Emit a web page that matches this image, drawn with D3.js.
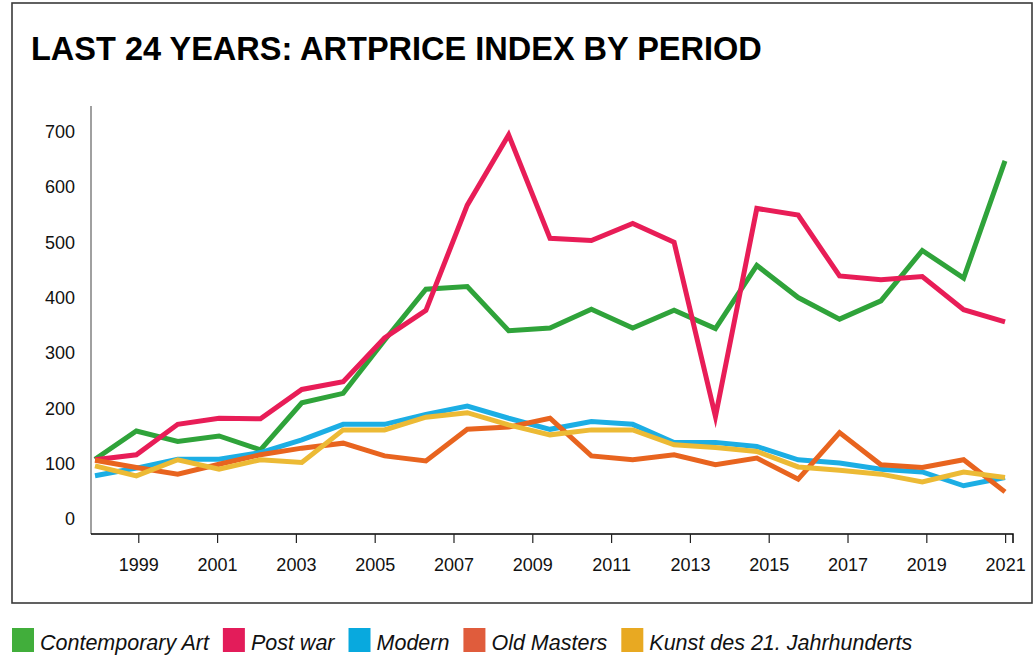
<!DOCTYPE html>
<html>
<head>
<meta charset="utf-8">
<script src="https://cdn.jsdelivr.net/npm/d3@7"></script>
<style>
  body { margin: 0; background: #fff; }
  svg { display: block; font-family: "Liberation Sans", Arial, sans-serif; }
</style>
</head>
<body>
<svg width="1034" height="655"></svg>
<script>

// years of the index (base 100 in 1998)
var years = [1998, 1999, 2000, 2001, 2002, 2003, 2004, 2005, 2006, 2007, 2008, 2009,
             2010, 2011, 2012, 2013, 2014, 2015, 2016, 2017, 2018, 2019, 2020];

var contemporary = [108, 159, 140, 150, 125, 210, 227, 323, 415, 420, 340, 345,
                    379, 345, 377, 344, 458, 400, 361, 394, 485, 435, 647];
var postWar      = [107, 116, 171, 182, 181, 234, 248, 327, 377, 567, 694, 507,
                    503, 534, 500, 185, 561, 549, 439, 432, 438, 378, 356];
var modern       = [78, 92, 108, 108, 120, 143, 171, 171, 189, 204, 182, 162,
                    176, 171, 138, 138, 131, 107, 101, 90, 85, 60, 75];
var oldMasters   = [106, 93, 81, 99, 116, 128, 137, 114, 105, 162, 166, 182,
                    114, 107, 116, 98, 110, 72, 156, 98, 93, 107, 49];
var kunst21      = [96, 78, 107, 90, 107, 102, 161, 161, 184, 192, 170, 152,
                    161, 161, 134, 129, 122, 94, 88, 81, 67, 85, 75];

var seriesNames  = ["Contemporary Art", "Post war", "Modern", "Old Masters", "Kunst des 21. Jahrhunderts"];
var lineColors   = ["#2fa33a", "#e81d57", "#1caee4", "#e8641f", "#ecba35"];
var legendColors = ["#41ae3b", "#e31c5a", "#08a9de", "#e05c3c", "#e8a922"];

var yTicks = [0, 100, 200, 300, 400, 500, 600, 700];
var xTickYears = [1999, 2001, 2003, 2005, 2007, 2009, 2011, 2013, 2015, 2017, 2019, 2021];

var svg = d3.select("svg");

// el marco de todo
svg.append("rect")
    .attr("x", 12).attr("y", 3)
    .attr("width", 1020).attr("height", 600)
    .attr("fill", "none")
    .attr("stroke", "#3a3a3a")
    .attr("stroke-width", 1.6);

svg.append("text")
    .attr("x", 31).attr("y", 60)
    .attr("font-size", 32.5)
    .attr("font-weight", "bold")
    .attr("fill", "#000")
    .text("LAST 24 YEARS: ARTPRICE INDEX BY PERIOD");

// scales
var x = d3.scalePoint()
    .domain(years)
    .range([95, 1005]);

var xAxisScale = d3.scaleLinear()
    .domain([1997.8, 2021.2])
    .range([91, 1013]);

var y = d3.scaleLinear()
    .domain([0, 700])
    .range([519, 131.5]);

// eje y: solo la linea gris y los numeros
svg.append("line")
    .attr("x1", 91).attr("x2", 91)
    .attr("y1", 106).attr("y2", 534)
    .attr("stroke", "#808080")
    .attr("stroke-width", 1.5);

svg.append("g")
    .selectAll("text")
    .data(yTicks)
    .enter().append("text")
      .attr("x", 75)
      .attr("y", d => y(d))
      .attr("dy", "0.36em")
      .attr("text-anchor", "end")
      .attr("font-size", 18)
      .attr("fill", "#111")
      .text(d => d);

// eje x
var xAxis = svg.append("g")
    .attr("transform", "translate(0,534)")
    .call(d3.axisBottom(xAxisScale)
        .tickValues(xTickYears)
        .tickFormat(d3.format("d"))
        .tickSize(9)
        .tickSizeOuter(9)
        .tickPadding(15));

var r = xAxisScale.range();
xAxis.select(".domain")
    .attr("d", "M" + r[0] + ",0H" + r[1] + "V9")
    .attr("stroke", "#000")
    .attr("stroke-width", 1.5);
xAxis.selectAll(".tick line").attr("stroke", "#222").attr("stroke-width", 1.2);
xAxis.selectAll(".tick text")
    .attr("font-size", 18)
    .attr("font-family", "Liberation Sans, Arial, sans-serif")
    .attr("fill", "#111");

// las lineas
var allSeries = [contemporary, postWar, modern, oldMasters, kunst21];
var drawOrder = [0, 1, 2, 3, 4];

var line = d3.line()
    .x((d, i) => x(years[i]))
    .y(d => y(d));

svg.append("g")
    .selectAll("path")
    .data(drawOrder)
    .enter().append("path")
      .attr("d", k => line(allSeries[k]))
      .attr("fill", "none")
      .attr("stroke", k => lineColors[k])
      .attr("stroke-width", 5)
      .attr("stroke-linejoin", "miter")
      .attr("stroke-miterlimit", 10);

// leyenda debajo del marco
var lx = 12;
seriesNames.forEach(function(name, i) {
  svg.append("rect")
      .attr("x", lx).attr("y", 628)
      .attr("width", 22).attr("height", 24)
      .attr("fill", legendColors[i]);
  var t = svg.append("text")
      .attr("x", lx + 28).attr("y", 650)
      .attr("font-size", 21.5)
      .attr("font-style", "italic")
      .attr("fill", "#111")
      .text(name);
  lx += 28 + t.node().getComputedTextLength() + 14;
});

</script>
</body>
</html>
